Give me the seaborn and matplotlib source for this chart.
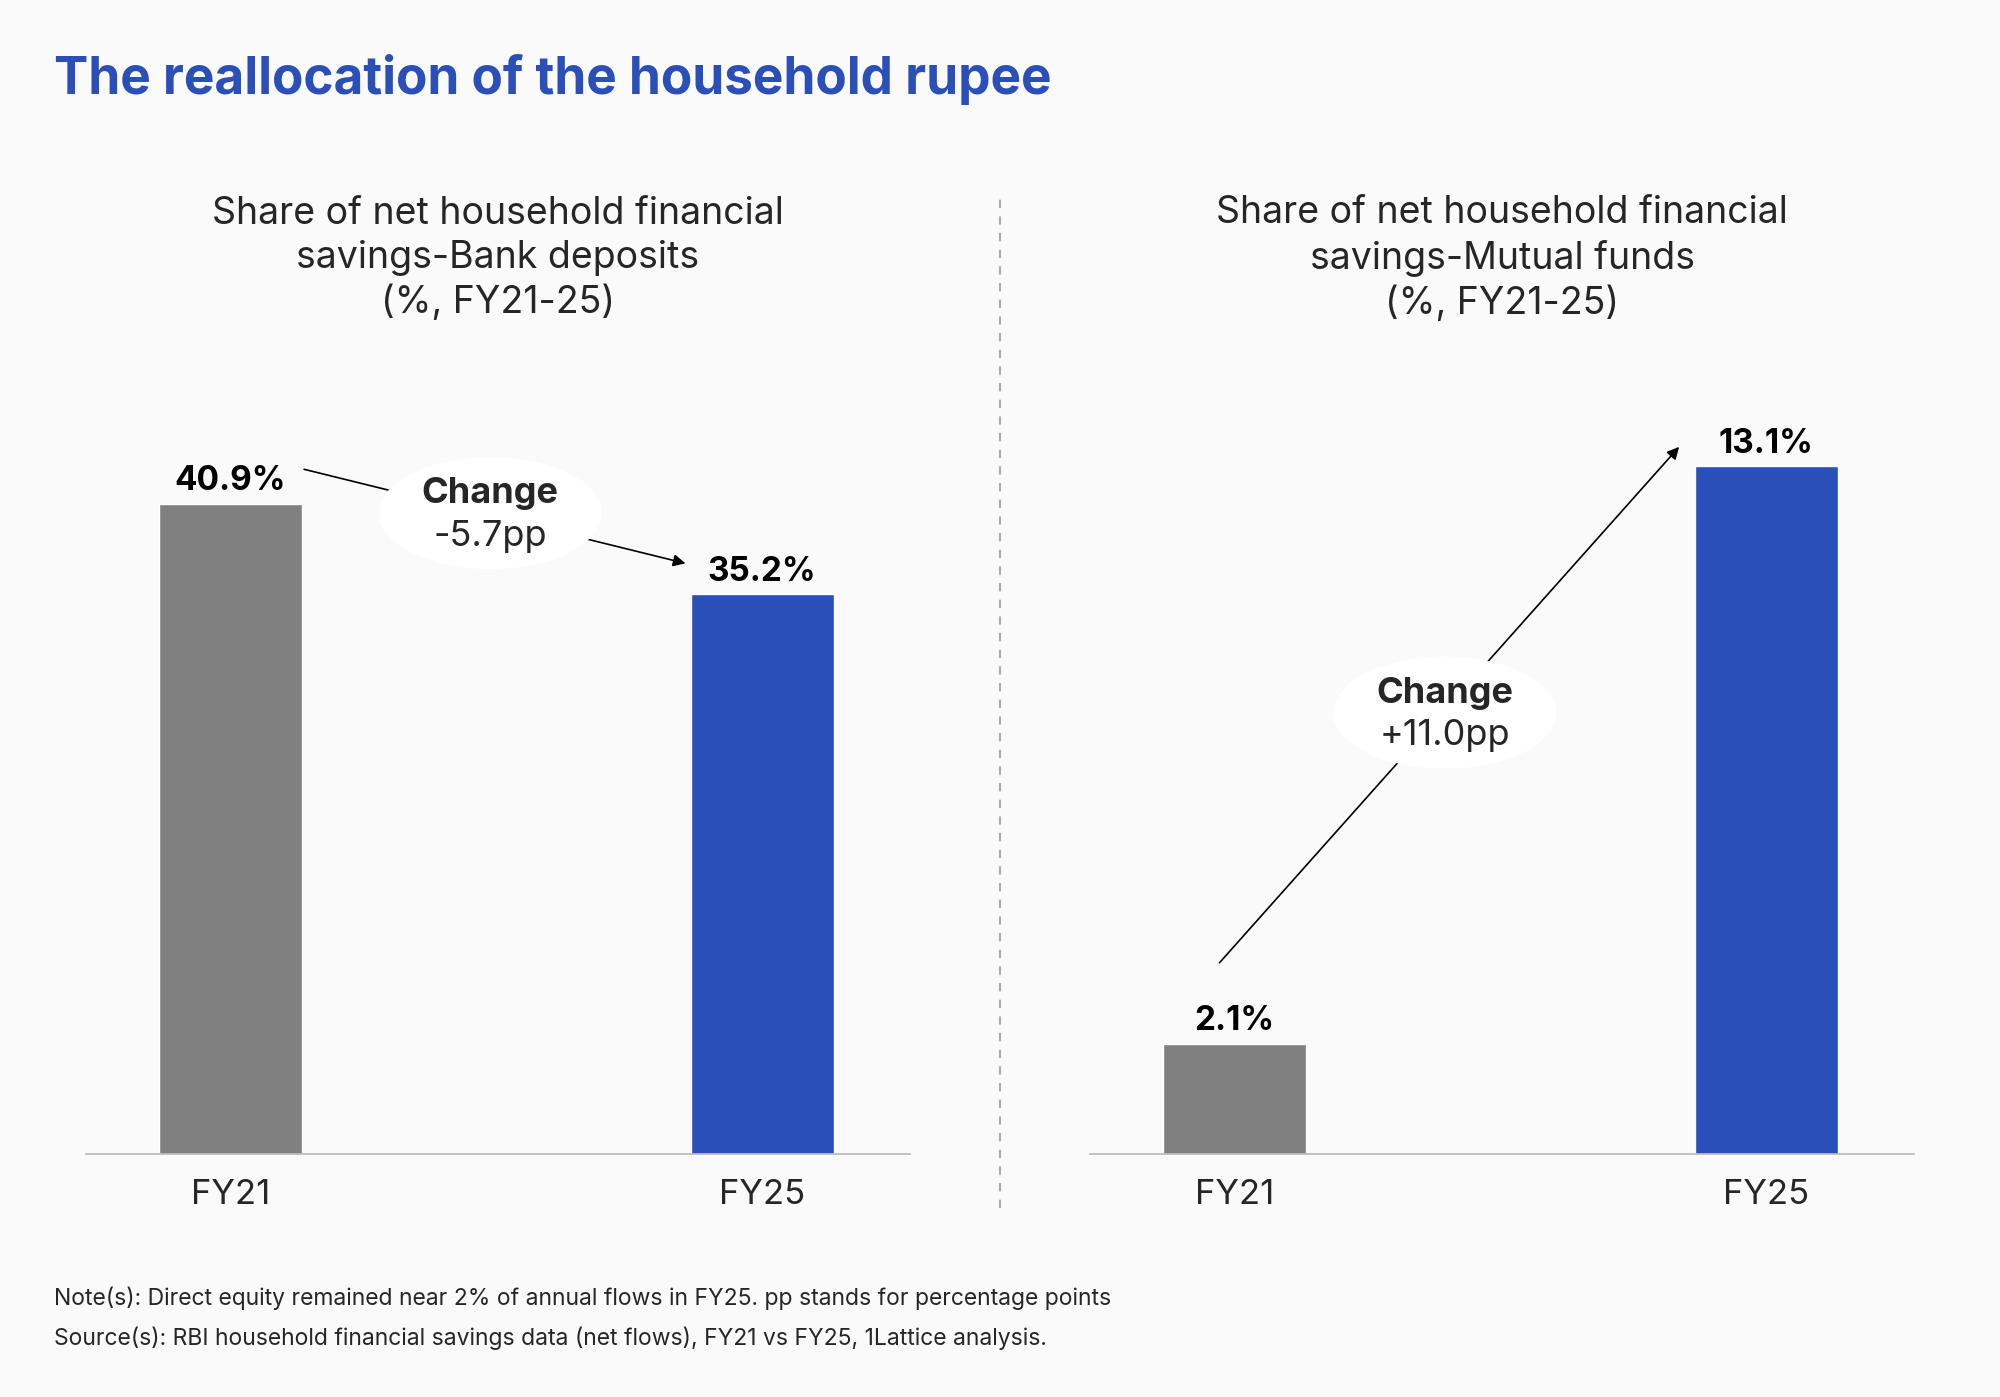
import matplotlib.pyplot as plt
import seaborn as sns
import pandas as pd
from matplotlib.patches import Ellipse

sns.set_theme(style="white")
plt.rcParams["font.family"] = ["Inter", "DejaVu Sans"]

years = ["FY21", "FY25"]
bank = [40.9, 35.2]
mf = [2.1, 13.1]
colors = ["#808080", "#2a4fb8"]
BLUE = "#2a4fb8"

fig = plt.figure(figsize=(20, 13.97), dpi=100, facecolor="#fafafa")

def panel(left, values, ylim, title, change, bubble, arrow):
    ax = fig.add_axes([left, 0.174, 0.412, 0.552])
    ax.set_facecolor("#fafafa")
    df = pd.DataFrame({"year": years, "val": values})
    sns.barplot(data=df, x="year", y="val", hue="year", palette=colors,
                width=0.269, legend=False, ax=ax, saturation=1)
    ax.set_xlim(-0.271, 1.278)
    ax.set_ylim(0, ylim)
    for i, v in enumerate(values):
        ax.text(i, v + ylim * 0.008, f"{v}%", ha="center", va="bottom",
                fontsize=24, fontweight="bold", color="black")
    for s in ["top", "right", "left"]:
        ax.spines[s].set_visible(False)
    ax.spines["bottom"].set_color("#bbbbbb")
    ax.set_yticks([])
    ax.set_xlabel("")
    ax.set_ylabel("")
    ax.tick_params(axis="x", labelsize=25, length=0, pad=18)
    ax.annotate("", xy=arrow[1], xytext=arrow[0],
                arrowprops=dict(arrowstyle="-|>", color="black", lw=1.2,
                                mutation_scale=18))
    ax.add_patch(Ellipse(bubble, 0.42, ylim * 0.145, facecolor="white",
                         edgecolor="none", zorder=5))
    ax.text(bubble[0], bubble[1] + ylim * 0.025, "Change", ha="center",
            va="center", fontsize=26, fontweight="bold", zorder=6)
    ax.text(bubble[0], bubble[1] - ylim * 0.03, change, ha="center",
            va="center", fontsize=26, zorder=6)
    fig.text(left + 0.206, 0.815, title, ha="center", va="center",
             fontsize=27, linespacing=1.3)
    return ax

panel(0.043, bank, 48.5,
      "Share of net household financial\nsavings-Bank deposits\n(%, FY21-25)",
      "-5.7pp", (0.489, 40.3), ((0.134, 43.1), (0.861, 37.1)))
panel(0.545, mf, 14.68,
      "Share of net household financial\nsavings-Mutual funds\n(%, FY21-25)",
      "+11.0pp", (0.396, 8.4), ((-0.031, 3.6), (0.84, 13.5)))

fig.add_artist(plt.Line2D([0.5, 0.5], [0.135, 0.86], color="#aaaaaa",
                          lw=1.5, ls=(0, (4, 4))))
fig.text(0.027, 0.943, "The reallocation of the household rupee", color=BLUE,
         fontsize=37, fontweight="bold", va="center")
fig.text(0.027, 0.071, "Note(s): Direct equity remained near 2% of annual flows in FY25. pp stands for percentage points",
         fontsize=16.5, va="center")
fig.text(0.027, 0.042, "Source(s): RBI household financial savings data (net flows), FY21 vs FY25, 1Lattice analysis.",
         fontsize=16.5, va="center")

fig.savefig("out.png", dpi=100, facecolor=fig.get_facecolor())
